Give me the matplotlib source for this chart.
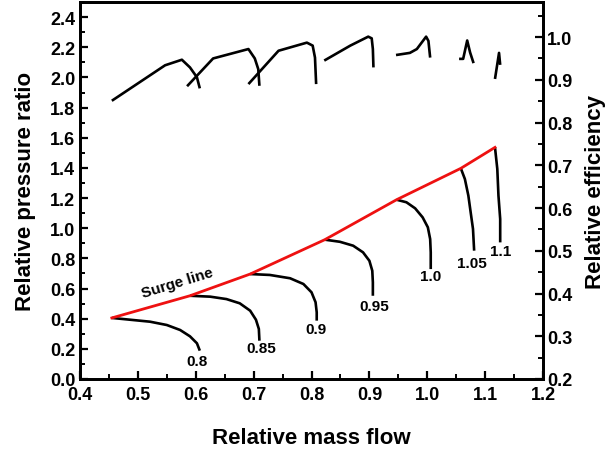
import matplotlib
matplotlib.use("Agg")
import matplotlib.pyplot as plt
from matplotlib.ticker import MultipleLocator

plt.rcParams['font.family'] = ['Liberation Sans', 'DejaVu Sans']
plt.rcParams['font.weight'] = 'bold'

# Speed lines (relative speed) – pressure ratio vs mass flow
speeds = ["0.8", "0.85", "0.9", "0.95", "1.0", "1.05", "1.1"]

pr_x_08 = [0.455, 0.492, 0.521, 0.550, 0.573, 0.590, 0.602, 0.607]
pr_y_08 = [0.405, 0.391, 0.380, 0.358, 0.325, 0.283, 0.237, 0.188]
pr_x_085 = [0.590, 0.625, 0.653, 0.676, 0.694, 0.704, 0.709, 0.710]
pr_y_085 = [0.552, 0.546, 0.530, 0.502, 0.453, 0.393, 0.332, 0.254]
pr_x_09 = [0.694, 0.728, 0.763, 0.786, 0.800, 0.807, 0.809, 0.809]
pr_y_09 = [0.696, 0.690, 0.668, 0.630, 0.575, 0.509, 0.442, 0.387]
pr_x_095 = [0.823, 0.849, 0.872, 0.889, 0.900, 0.905, 0.906, 0.906]
pr_y_095 = [0.924, 0.910, 0.884, 0.840, 0.784, 0.718, 0.641, 0.552]
pr_x_10 = [0.947, 0.964, 0.979, 0.992, 1.001, 1.005, 1.006, 1.006]
pr_y_10 = [1.189, 1.172, 1.132, 1.072, 1.006, 0.928, 0.840, 0.729]
pr_x_105 = [1.058, 1.065, 1.071, 1.075, 1.079, 1.081]
pr_y_105 = [1.397, 1.326, 1.216, 1.105, 0.995, 0.851]
pr_x_11 = [1.117, 1.121, 1.123, 1.126, 1.126]
pr_y_11 = [1.536, 1.393, 1.216, 1.061, 0.906]

# Efficiency lines (right axis)
ef_x_08 = [0.455, 0.547, 0.576, 0.590, 0.602, 0.607]
ef_y_08 = [0.851, 0.934, 0.947, 0.929, 0.906, 0.880]
ef_x_085 = [0.585, 0.630, 0.691, 0.702, 0.708, 0.710]
ef_y_085 = [0.885, 0.950, 0.972, 0.950, 0.925, 0.886]
ef_x_09 = [0.691, 0.743, 0.792, 0.802, 0.806, 0.808]
ef_y_09 = [0.890, 0.968, 0.987, 0.980, 0.952, 0.890]
ef_x_095 = [0.822, 0.867, 0.898, 0.904, 0.906, 0.907]
ef_y_095 = [0.945, 0.980, 1.001, 0.997, 0.972, 0.929]
ef_x_10 = [0.946, 0.970, 0.982, 0.998, 1.002, 1.005]
ef_y_10 = [0.958, 0.963, 0.972, 1.001, 0.991, 0.952]
ef_x_105 = [1.055, 1.062, 1.069, 1.074, 1.080]
ef_y_105 = [0.949, 0.949, 0.992, 0.964, 0.939]
ef_x_11 = [1.117, 1.124, 1.126]
ef_y_11 = [0.902, 0.963, 0.935]

# Speed label positions
label_x = [0.602, 0.714, 0.808, 0.908, 1.006, 1.077, 1.126]
label_y = [0.119, 0.206, 0.332, 0.484, 0.683, 0.769, 0.849]

pr_x = [pr_x_08, pr_x_085, pr_x_09, pr_x_095, pr_x_10, pr_x_105, pr_x_11]
pr_y = [pr_y_08, pr_y_085, pr_y_09, pr_y_095, pr_y_10, pr_y_105, pr_y_11]
ef_x = [ef_x_08, ef_x_085, ef_x_09, ef_x_095, ef_x_10, ef_x_105, ef_x_11]
ef_y = [ef_y_08, ef_y_085, ef_y_09, ef_y_095, ef_y_10, ef_y_105, ef_y_11]

surge_x = [xs[0] for xs in pr_x]
surge_y = [ys[0] for ys in pr_y]

fig = plt.figure(figsize=(6.07, 4.52), dpi=100)
ax = fig.add_axes([0.1318, 0.1593, 0.7628, 0.834])
ax2 = ax.twinx()

for xs, ys in zip(pr_x, pr_y):
    ax.plot(xs, ys, color='black', lw=1.9, solid_capstyle='butt', solid_joinstyle='round')
ax.plot(surge_x, surge_y, color='#ee1111', lw=2.0)
for xs, ys in zip(ef_x, ef_y):
    ax2.plot(xs, ys, color='black', lw=1.9, solid_capstyle='butt', solid_joinstyle='round')

for s, lx, ly in zip(speeds, label_x, label_y):
    ax.text(lx, ly, s, ha='center', va='center', fontsize=11, fontweight='bold')
ax.text(0.569, 0.643, "Surge line", rotation=17, ha='center', va='center',
        fontsize=11, fontweight='bold')

ax.set_xlim(0.4, 1.2)
ax.set_ylim(0.0, 2.5)
ax2.set_ylim(0.2, 1.082)

ax.xaxis.set_minor_locator(MultipleLocator(0.05))
ax.yaxis.set_minor_locator(MultipleLocator(0.1))
ax2.yaxis.set_minor_locator(MultipleLocator(0.05))

ax.set_xticks([0.4, 0.5, 0.6, 0.7, 0.8, 0.9, 1.0, 1.1, 1.2])
ax.set_xticklabels(["0.4", "0.5", "0.6", "0.7", "0.8", "0.9", "1.0", "1.1", "1.2"])
ax.set_yticks([0.0, 0.2, 0.4, 0.6, 0.8, 1.0, 1.2, 1.4, 1.6, 1.8, 2.0, 2.2, 2.4])
ax.set_yticklabels(["0.0", "0.2", "0.4", "0.6", "0.8", "1.0", "1.2", "1.4", "1.6",
                    "1.8", "2.0", "2.2", "2.4"])
ax2.set_yticks([0.2, 0.3, 0.4, 0.5, 0.6, 0.7, 0.8, 0.9, 1.0])
ax2.set_yticklabels(["0.2", "0.3", "0.4", "0.5", "0.6", "0.7", "0.8", "0.9", "1.0"])

for a in (ax, ax2):
    a.tick_params(which='major', direction='in', length=6, width=1.6, labelsize=13)
    a.tick_params(which='minor', direction='in', length=3.5, width=1.4)
    for sp in a.spines.values():
        sp.set_linewidth(2.0)
ax.tick_params(axis='both', which='both', top=False, right=False)
ax.tick_params(axis='x', pad=5)
ax2.tick_params(axis='y', which='both', left=False, right=True, pad=3)

ax.set_xlabel("Relative mass flow", fontsize=16, fontweight='bold', labelpad=17)
ax.set_ylabel("Relative pressure ratio", fontsize=16, fontweight='bold', labelpad=10)
ax2.set_ylabel("Relative efficiency", fontsize=16, fontweight='bold', labelpad=9)

fig.savefig("out.png", dpi=100)
